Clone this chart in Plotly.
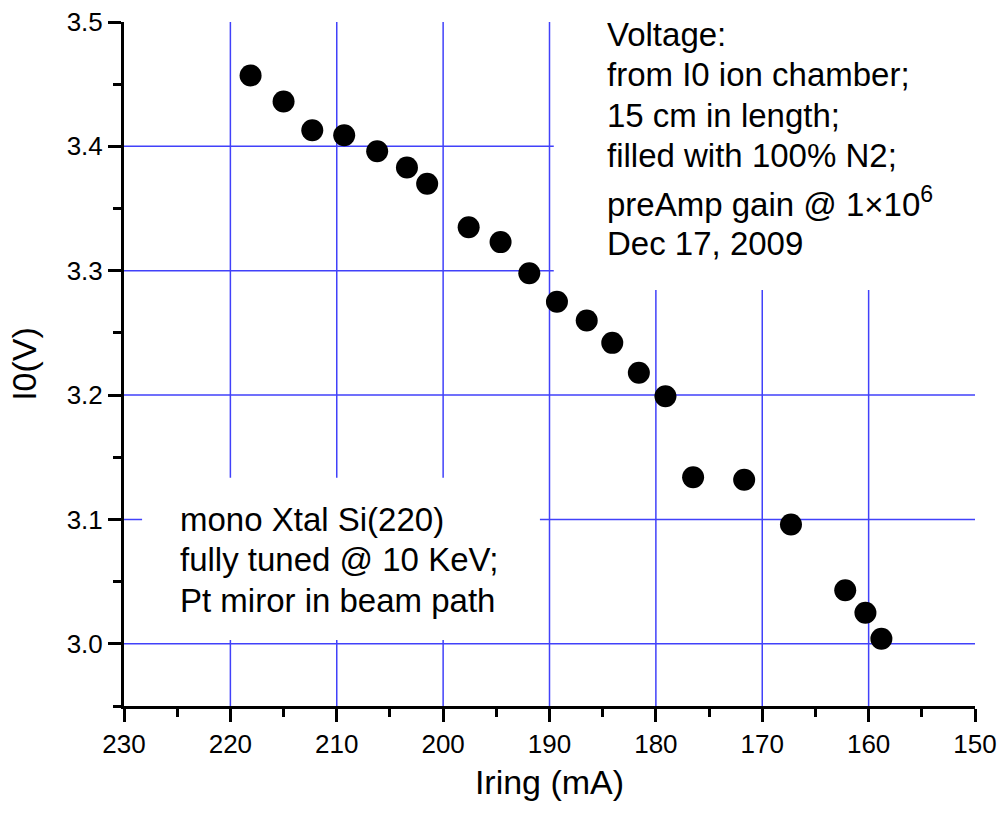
import plotly.graph_objects as go

# ---- data ----
iring_mA = [218.1, 215.0, 212.3, 209.3, 206.2, 203.4, 201.5, 197.6, 194.6, 191.9, 189.3,
            186.5, 184.1, 181.6, 179.1, 176.5, 171.7, 167.3, 162.2, 160.3, 158.8]
i0_V = [3.457, 3.436, 3.413, 3.409, 3.396, 3.383, 3.370, 3.335, 3.323, 3.298, 3.275,
        3.260, 3.242, 3.218, 3.199, 3.134, 3.132, 3.096, 3.043, 3.025, 3.004]

x_ticks = [230, 220, 210, 200, 190, 180, 170, 160, 150]
y_ticks = [3.0, 3.1, 3.2, 3.3, 3.4, 3.5]
x_grid = [220, 210, 200, 190, 180, 170, 160]
y_grid = [3.0, 3.1, 3.2, 3.3, 3.4]

note_right = ["Voltage:", "from I0 ion chamber;", "15 cm in length;", "filled with 100% N2;",
              "preAmp gain @ 1\u00d710<sup>6</sup>", "Dec 17, 2009"]
note_left = ["mono Xtal Si(220)", "fully tuned @ 10 KeV;", "Pt miror in beam path"]

FONT = "Liberation Sans, Arial, sans-serif"
GRID = "rgb(65,65,250)"
NOTE_SIZE = 33

fig = go.Figure()
fig.add_trace(go.Scatter(
    x=iring_mA, y=i0_V, mode="markers",
    marker=dict(size=22, color="black", line=dict(width=0)),
    showlegend=False, hoverinfo="x+y"))

shapes = []
for gx in x_grid:
    shapes.append(dict(type="line", xref="x", yref="y", x0=gx, x1=gx, y0=2.95, y1=3.5,
                       line=dict(color=GRID, width=1.5), layer="below"))
for gy in y_grid:
    shapes.append(dict(type="line", xref="x", yref="y", x0=230, x1=150, y0=gy, y1=gy,
                       line=dict(color=GRID, width=1.5), layer="below"))
# white boxes behind the text blocks (hide grid)
shapes.append(dict(type="rect", xref="x", yref="y", x0=189.6, x1=150, y0=3.2845, y1=3.5,
                   fillcolor="white", line=dict(width=0), layer="below"))
shapes.append(dict(type="rect", xref="x", yref="y", x0=228.3, x1=190.9, y0=3.003, y1=3.1335,
                   fillcolor="white", line=dict(width=0), layer="below"))

annotations = []
right_bottoms = [0.9518, 0.8933, 0.8333, 0.7749, 0.7032, 0.6462]
for txt, yb in zip(note_right, right_bottoms):
    annotations.append(dict(xref="paper", yref="paper", x=0.565, y=yb, xanchor="left",
                            yanchor="bottom", align="left", showarrow=False, text=txt,
                            font=dict(family=FONT, size=NOTE_SIZE, color="black")))
left_bottoms = [0.2427, 0.1842, 0.1243]
for txt, yb in zip(note_left, left_bottoms):
    annotations.append(dict(xref="paper", yref="paper", x=0.0635, y=yb, xanchor="left",
                            yanchor="bottom", align="left", showarrow=False, text=txt,
                            font=dict(family=FONT, size=NOTE_SIZE, color="black")))

fig.update_layout(
    width=999, height=813,
    margin=dict(l=124, r=24, t=22, b=107, autoexpand=False),
    paper_bgcolor="white", plot_bgcolor="white",
    font=dict(family=FONT, color="black"),
    shapes=shapes, annotations=annotations,
    xaxis=dict(
        range=[230, 150], tickvals=x_ticks, ticktext=[str(v) for v in x_ticks],
        showgrid=False, zeroline=False, automargin=False,
        showline=True, linecolor="black", linewidth=3,
        ticks="outside", ticklen=13, tickwidth=2.5, tickcolor="black",
        minor=dict(dtick=5, ticks="outside", ticklen=8, tickwidth=2.5, tickcolor="black", showgrid=False),
        tickfont=dict(size=26, family=FONT),
        title=dict(text="Iring (mA)", font=dict(size=34, family=FONT), standoff=12),
    ),
    yaxis=dict(
        range=[2.95, 3.5], tickvals=y_ticks, ticktext=["%.1f" % v for v in y_ticks],
        showgrid=False, zeroline=False, automargin=False,
        showline=True, linecolor="black", linewidth=3,
        ticks="outside", ticklen=13, tickwidth=2.5, tickcolor="black",
        minor=dict(dtick=0.05, tick0=2.95, ticks="outside", ticklen=8, tickwidth=2.5, tickcolor="black", showgrid=False),
        tickfont=dict(size=26, family=FONT),
        title=dict(text="I0(V)", font=dict(size=34, family=FONT), standoff=20),
    ),
)

fig.write_html("out.html")
